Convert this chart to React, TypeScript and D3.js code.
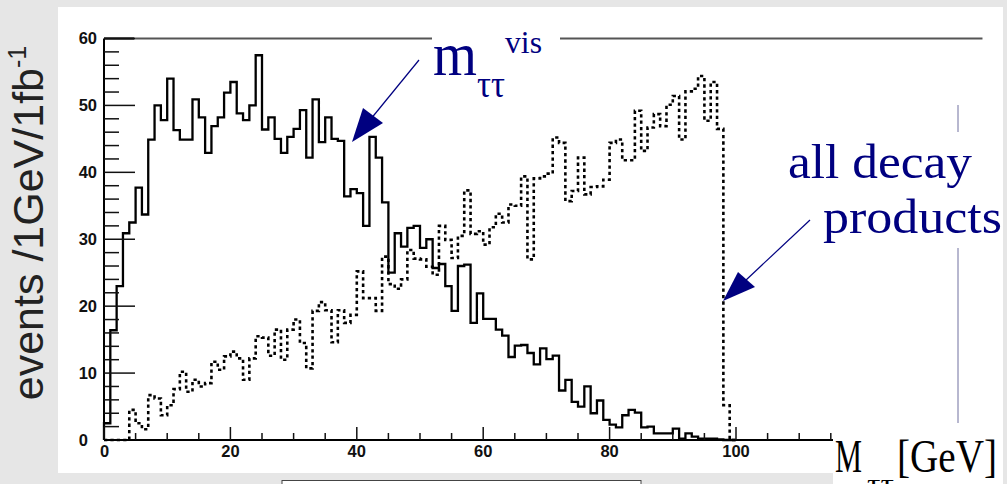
import React from "react";
import * as d3 from "d3";

// Event counts per 1 GeV bin (0–100 GeV), visible di-tau mass
const visMass: number[] = [
  2.5, 16.4, 23, 30.9, 32.5, 37.7, 33.7, 44.9, 50, 47.8,
  54, 46.3, 44.9, 44.9, 50.9, 48.2, 42.9, 46.9, 48.2, 51.9,
  53.5, 48.8, 47.8, 50, 57.5, 46.4, 48.2, 45, 42.9, 45.3,
  46.5, 49.3, 42.2, 50.9, 44.5, 48.2, 45, 44.7, 36.4, 37.5,
  36.9, 32, 45.3, 42.2, 35.5, 25, 30.9, 28.9, 31.7, 32,
  28.7, 30, 25.7, 26.3, 23, 19.3, 26, 26.2, 17.5, 21.9,
  18.1, 18.1, 16.5, 15.6, 12.4, 14.1, 14.2, 13, 11.3, 13.7,
  12.1, 12.6, 7.4, 9, 5.7, 5, 8, 4, 5.9, 3,
  2.3, 1.9, 3.7, 4.5, 4.1, 1.9, 2, 1, 1, 1,
  1.7, 0.2, 1, 0.5, 0.2, 0.2, 0.2, 0.1, 0, 0,
];

// Event counts per 1 GeV bin, mass from all decay products
const fullMass: number[] = [
  0, 0, 0, 0, 4.5, 2.5, 1.6, 6.7, 6.2, 3.7,
  5.2, 7.6, 10.2, 7.2, 9, 8, 8.5, 11.7, 10.5, 12.5,
  13.2, 12.2, 9, 12.2, 15.5, 15.3, 12.6, 16.5, 12, 16.5,
  18, 14.5, 10.7, 19.3, 20.6, 19.4, 14.6, 19.4, 17.5, 18.7,
  25.2, 21.2, 21.2, 19.3, 27.4, 23.3, 22.6, 24, 28.4, 27.1,
  27, 25.9, 24.7, 32, 29.9, 27.2, 30.5, 37.3, 30.8, 31.2,
  29.2, 31.8, 33.8, 32.5, 35.2, 35, 39.4, 27, 39.1, 39.4,
  39.8, 45.2, 44.4, 35.7, 37.2, 42.2, 36.7, 37.8, 37.9, 38.9,
  44.4, 44.9, 41.8, 41.8, 49.2, 43.2, 46.7, 48.7, 46.9, 50.1,
  51.4, 44.9, 52.1, 52.5, 54.4, 47.7, 53.5, 46.5, 5.2, 0,
];

const xMajorTicks: number[] = [0, 20, 40, 60, 80, 100];
const yMajorTicks: number[] = [0, 10, 20, 30, 40, 50, 60];

const W = 1007;
const H = 484;
const NAVY = "#000080";

const x = d3.scaleLinear().domain([0, 140]).range([104, 104 + 6.32 * 140]);
const y = d3.scaleLinear().domain([0, 60]).range([440, 38.5]);

function histPath(counts: number[]): string {
  const n = counts.length;
  const pts: [number, number][] = [[0, 0]];
  counts.forEach((v, i) => pts.push([i, v]));
  pts.push([n, counts[n - 1]]);
  pts.push([n, 0]);
  const line = d3
    .line<[number, number]>()
    .x((d) => x(d[0]))
    .y((d) => y(d[1]))
    .curve(d3.curveStepAfter);
  return line(pts) || "";
}

export default function App() {
  const xMinor = d3.range(0, 116, 5).filter((v) => v % 20 !== 0);
  const yMinor = d3.range(0, 61, 2).filter((v) => v % 10 !== 0);
  const tickFont = "'Liberation Sans', Arial, sans-serif";
  const serif = "'Liberation Serif', 'Times New Roman', serif";

  return (
    <div style={{ position: "absolute", left: 0, top: 0 }}>
      <svg width={W} height={H} style={{ display: "block" }}>
        {/* page backgrounds */}
        <rect x={0} y={0} width={W} height={H} fill="#e6e6e6" />
        <rect x={58} y={7} width={945} height={466} fill="#ffffff" />

        {/* frame top line */}
        <line x1={x(0)} x2={x(139)} y1={y(60)} y2={y(60)} stroke="#555" strokeWidth={2} />
        <line x1={x(0)} x2={x(0) + 30} y1={y(60)} y2={y(60)} stroke="#000" strokeWidth={2} />

        {/* histograms */}
        <path d={histPath(fullMass)} fill="none" stroke="#000" strokeWidth={2.6} strokeDasharray="3.3,3.1" />
        <path d={histPath(visMass)} fill="none" stroke="#000" strokeWidth={2.3} />

        {/* y axis */}
        <line x1={x(0)} x2={x(0)} y1={y(0)} y2={y(60)} stroke="#000" strokeWidth={2} />
        {yMajorTicks.map((t) => (
          <line key={"ym" + t} x1={x(0)} x2={x(0) + 31} y1={y(t)} y2={y(t)} stroke="#111" strokeWidth={1.5} />
        ))}
        {yMinor.map((t) => (
          <line key={"yn" + t} x1={x(0)} x2={x(0) + 15} y1={y(t)} y2={y(t)} stroke="#111" strokeWidth={1.5} />
        ))}
        {yMajorTicks.map((t) => (
          <text
            key={"yl" + t}
            x={t === 0 ? 88 : 97}
            y={y(t)}
            dy="0.36em"
            textAnchor="end"
            fontFamily={tickFont}
            fontWeight="bold"
            fontSize={16.5}
            fill="#111"
          >
            {t}
          </text>
        ))}

        {/* x axis */}
        <line x1={x(0)} x2={x(115.5)} y1={y(0)} y2={y(0)} stroke="#000" strokeWidth={2} />
        {xMajorTicks.map((t) => (
          <line key={"xm" + t} x1={x(t)} x2={x(t)} y1={y(0)} y2={y(0) - 13} stroke="#111" strokeWidth={1.5} />
        ))}
        {xMinor.map((t) => (
          <line key={"xn" + t} x1={x(t)} x2={x(t)} y1={y(0)} y2={y(0) - 7} stroke="#111" strokeWidth={1.5} />
        ))}
        {xMajorTicks.map((t) => (
          <text
            key={"xl" + t}
            x={x(t) - (t === 0 ? -0.5 : 0)}
            y={457}
            textAnchor="middle"
            fontFamily={tickFont}
            fontWeight="bold"
            fontSize={16.5}
            fill="#111"
          >
            {t}
          </text>
        ))}

        {/* y axis title */}
        <text
          transform="translate(43,223) rotate(-90)"
          textAnchor="middle"
          fontFamily="'Liberation Sans', Arial, sans-serif"
          fontSize={43}
          fill="#222"
        >
          events /1GeV/1fb
          <tspan dy={-17} fontSize={25}>-1</tspan>
        </text>

        {/* visible-mass label */}
        <rect x={432} y={26} width={128} height={76} fill="#fff" />
        <text x={433} y={75} fontFamily={serif} fontSize={62} fill={NAVY} textLength={44} lengthAdjust="spacingAndGlyphs">m</text>
        <text x={477} y={97} fontFamily={serif} fontSize={38} fill={NAVY} textLength={28} lengthAdjust="spacingAndGlyphs">ττ</text>
        <text x={505} y={53} fontFamily={serif} fontSize={32} fill={NAVY} textLength={37} lengthAdjust="spacingAndGlyphs">vis</text>
        <line x1={419} y1={60} x2={370} y2={120} stroke={NAVY} strokeWidth={1.2} />
        <polygon points="352,142 363,108 383,123" fill={NAVY} />

        {/* thin vertical rule on the right */}
        <line x1={958} x2={958} y1={105} y2={423} stroke="#7070a0" strokeWidth={1} />

        {/* all-decay-products label */}
        <rect x={785} y={132} width={218} height={116} fill="#fff" />
        <text x={788} y={178} fontFamily={serif} fontSize={48} fill={NAVY} textLength={184} lengthAdjust="spacingAndGlyphs">all decay</text>
        <text x={823} y={233} fontFamily={serif} fontSize={48} fill={NAVY} textLength={179} lengthAdjust="spacingAndGlyphs">products</text>
        <line x1={810} y1={220} x2={745} y2={281} stroke={NAVY} strokeWidth={1.2} />
        <polygon points="723,301 738,272 755,287" fill={NAVY} />

        {/* x axis title */}
        <rect x={833} y={427} width={170} height={57} fill="#fff" />
        <text x={835} y={472} fontFamily={serif} fontSize={47} fill="#000" textLength={27} lengthAdjust="spacingAndGlyphs">M</text>
        <text x={867} y={492} fontFamily={serif} fontSize={26} fill="#000" textLength={27} lengthAdjust="spacingAndGlyphs">ττ</text>
        <text x={897} y={472} fontFamily={serif} fontSize={47} fill="#000" textLength={100} lengthAdjust="spacingAndGlyphs">[GeV]</text>

        {/* bottom box */}
        <rect x={282} y={480.5} width={359} height={20} fill="#fff" stroke="#444" strokeWidth={1} />
      </svg>
    </div>
  );
}
